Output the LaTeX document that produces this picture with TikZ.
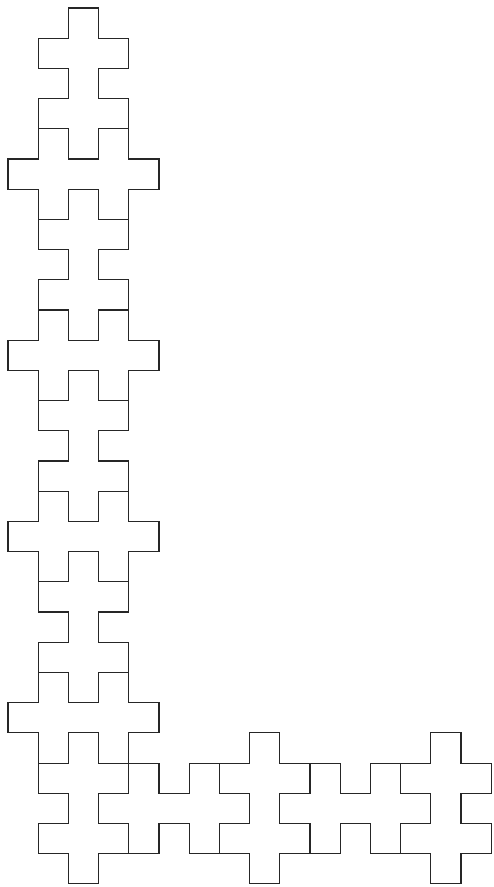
\documentclass[tikz,border=0pt]{standalone}
\usepackage{tikz}

\begin{document}
\begin{tikzpicture}[
  x=1cm, y=-1cm,
  tile/.style={draw=black!85, line width=1pt, line join=miter, fill=white}
]
\useasboundingbox (-0.265,-0.265) rectangle (16.06,29.105);

% upright double crosses (column of five, arms on rows 2 and 4)
\foreach \px/\py in {2/0, 2/6, 2/12, 2/18, 2/24, 8/24, 14/24}
  \draw[tile] (\px,\py) -- ++(1,0) -- ++(0,1) -- ++(1,0) -- ++(0,1) -- ++(-1,0)
    -- ++(0,1) -- ++(1,0) -- ++(0,1) -- ++(-1,0) -- ++(0,1) -- ++(-1,0)
    -- ++(0,-1) -- ++(-1,0) -- ++(0,-1) -- ++(1,0) -- ++(0,-1) -- ++(-1,0)
    -- ++(0,-1) -- ++(1,0) -- cycle;

% lying double crosses (row of five, arms on columns 2 and 4)
\foreach \px/\py in {0/5, 0/11, 0/17, 0/23, 3/26, 9/26}
  \draw[tile] (\px,\py) -- ++(1,0) -- ++(0,-1) -- ++(1,0) -- ++(0,1) -- ++(1,0)
    -- ++(0,-1) -- ++(1,0) -- ++(0,1) -- ++(1,0) -- ++(0,1) -- ++(-1,0)
    -- ++(0,1) -- ++(-1,0) -- ++(0,-1) -- ++(-1,0) -- ++(0,1) -- ++(-1,0)
    -- ++(0,-1) -- ++(-1,0) -- cycle;
\end{tikzpicture}
\end{document}
